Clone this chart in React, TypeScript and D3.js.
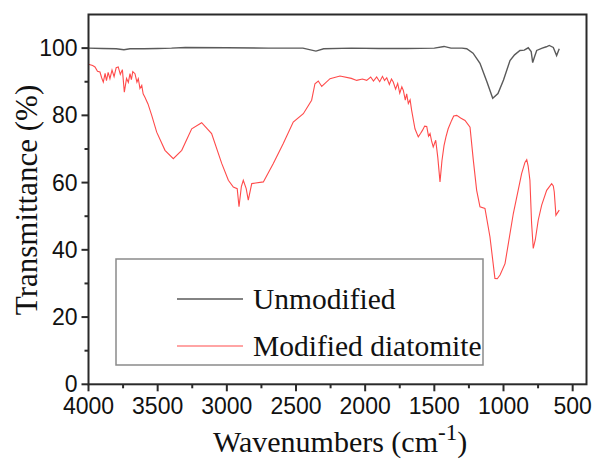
import React from "react";
import * as d3 from "d3";

const unmodWn = [4000, 3900, 3800, 3744, 3700, 3600, 3500, 3400, 3300, 3000, 2700, 2450, 2356, 2300, 2100, 1900, 1700, 1500, 1430, 1380, 1300, 1266, 1220, 1170, 1120, 1078, 1040, 1000, 953, 920, 881, 850, 821, 800, 789, 775, 760, 720, 690, 669, 640, 616, 597];
const unmodT = [100, 99.9, 99.8, 99.5, 99.8, 99.8, 99.9, 100, 100.2, 100.1, 100, 100, 99.1, 99.8, 100, 99.9, 99.9, 100, 100.5, 100, 100, 99.8, 98.5, 95.5, 90, 85.1, 86.5, 90.5, 96.3, 98, 99.3, 99.4, 100.1, 99, 95.7, 97.5, 99.3, 100, 100.4, 100.8, 100.2, 97.8, 99.8];

const modWn = [4000, 3970, 3953, 3935, 3917, 3905, 3893, 3880, 3870, 3858, 3845, 3830, 3815, 3800, 3785, 3770, 3755, 3741, 3725, 3712, 3700, 3690, 3680, 3664, 3650, 3640, 3628, 3615, 3605, 3592, 3570, 3543, 3507, 3447, 3387, 3326, 3254, 3182, 3110, 3037, 2989, 2953, 2925, 2912, 2895, 2881, 2860, 2845, 2820, 2736, 2664, 2592, 2520, 2447, 2387, 2363, 2339, 2314, 2254, 2182, 2100, 2061, 2020, 1989, 1960, 1940, 1917, 1895, 1875, 1860, 1844, 1825, 1810, 1797, 1780, 1765, 1750, 1735, 1724, 1710, 1700, 1688, 1675, 1664, 1640, 1616, 1600, 1585, 1570, 1555, 1542, 1531, 1520, 1508, 1490, 1475, 1459, 1445, 1430, 1416, 1400, 1375, 1360, 1338, 1310, 1278, 1242, 1218, 1194, 1170, 1134, 1098, 1062, 1045, 1025, 989, 929, 869, 845, 832, 822, 809, 797, 785, 770, 749, 724, 688, 652, 640, 633, 621, 610, 597];
const modT = [95.2, 94.8, 94.4, 93.1, 92.9, 91.2, 89.9, 92.5, 90.3, 92.8, 90.9, 93.5, 91.5, 94.2, 94.4, 92.2, 93.6, 86.9, 91.0, 89.8, 92.4, 90.6, 93.0, 92.4, 89.9, 90.9, 88.0, 88.9, 86.4, 85.4, 83.4, 80.0, 75.0, 69.6, 67.1, 69.6, 76.0, 77.8, 74.6, 65.7, 60.7, 58.7, 58.2, 52.8, 58.8, 60.7, 58.2, 54.8, 59.7, 60.2, 65.7, 71.6, 78.0, 80.5, 84.5, 89.4, 90.2, 88.6, 90.9, 91.7, 91.0, 90.4, 90.8, 90.4, 91.4, 90.2, 91.4, 90.0, 91.6, 90.4, 91.2, 89.2, 90.8, 89.9, 87.8, 89.5, 86.6, 88.5, 87.4, 84.5, 86.4, 83.5, 84.6, 81.5, 76.0, 73.6, 74.6, 75.6, 76.8, 76.7, 73.8, 74.6, 72.4, 70.6, 72.6, 67.5, 60.2, 66.5, 71.0, 73.6, 76.0, 78.5, 79.8, 80.0, 79.2, 78.5, 76.5, 66.6, 57.7, 52.8, 52.3, 43.9, 31.5, 31.4, 32.5, 35.9, 50.8, 62.7, 66.0, 66.8, 65.0, 60.7, 48.0, 40.4, 43.0, 48.8, 53.3, 57.7, 59.7, 59.0, 57.2, 50.3, 51.0, 51.8];

const xMajor = [4000, 3500, 3000, 2500, 2000, 1500, 1000, 500];
const xMinor = [3750, 3250, 2750, 2250, 1750, 1250, 750];
const yMajor = [0, 20, 40, 60, 80, 100];
const yMinor = [10, 30, 50, 70, 90];
const legendLabels = ["Unmodified", "Modified diatomite"];

const W = 594, H = 459;
const L = 88.5, R = 586.5, T = 14.5, B = 384.3;

export default function App() {
  const x = d3.scaleLinear().domain([4000, 400]).range([L, R]);
  const y = d3.scaleLinear().domain([0, 110]).range([B, T]);
  const line = d3.line<[number, number]>().x(d => x(d[0])).y(d => y(d[1]));
  const unmodPath = line(unmodWn.map((w, i) => [w, unmodT[i]]))!;
  const modPath = line(modWn.map((w, i) => [w, modT[i]]))!;
  const serif = "'Liberation Serif', 'Times New Roman', serif";
  const sans = "'Liberation Sans', Arial, sans-serif";
  const axisColor = "#2a2a2a";
  const colors = ["#5a5a5a", "#ff4a4a"];
  return (
    <svg width={W} height={H} style={{ position: "absolute", left: 0, top: 0, background: "#fff" }}>
      <rect x={0} y={0} width={W} height={H} fill="#fff" />
      <path d={unmodPath} fill="none" stroke={colors[0]} strokeWidth={1.4} />
      <path d={modPath} fill="none" stroke={colors[1]} strokeWidth={1.1} />
      {/* frame */}
      <rect x={L} y={T} width={R - L} height={B - T} fill="none" stroke={axisColor} strokeWidth={2} />
      {xMajor.map(v => (
        <g key={"xM" + v}>
          <line x1={x(v)} x2={x(v)} y1={B} y2={B + 7} stroke={axisColor} strokeWidth={2} />
          <text x={x(v)} y={413.5} textAnchor="middle" fontFamily={sans} fontSize={23} fill="#111">{v}</text>
        </g>
      ))}
      {xMinor.map(v => (
        <line key={"xm" + v} x1={x(v)} x2={x(v)} y1={B} y2={B + 4} stroke={axisColor} strokeWidth={2} />
      ))}
      {yMajor.map(v => (
        <g key={"yM" + v}>
          <line x1={L - 7} x2={L} y1={y(v)} y2={y(v)} stroke={axisColor} strokeWidth={2} />
          <text x={L - 11} y={y(v) + 8} textAnchor="end" fontFamily={sans} fontSize={23} fill="#111">{v}</text>
        </g>
      ))}
      {yMinor.map(v => (
        <line key={"ym" + v} x1={L - 4} x2={L} y1={y(v)} y2={y(v)} stroke={axisColor} strokeWidth={2} />
      ))}
      {/* legend */}
      <rect x={116} y={259} width={367} height={106} fill="#fff" stroke="#8a8a8a" strokeWidth={1.5} />
      {legendLabels.map((lab, i) => (
        <g key={lab}>
          <line x1={177} x2={243} y1={299 + i * 47} y2={299 + i * 47} stroke={colors[i]} strokeWidth={i === 0 ? 1.4 : 1.1} />
          <text x={253} y={309 + i * 47} fontFamily={serif} fontSize={29.5} fill="#111">{lab}</text>
        </g>
      ))}
      {/* axis titles */}
      <text transform="translate(37,200) rotate(-90)" textAnchor="middle" fontFamily={serif} fontSize={31} fill="#111">Transmittance (%)</text>
      <text x={213} y={452} fontFamily={serif} fontSize={30} fill="#111">
        Wavenumbers (cm<tspan dy={-12} fontSize={23}>-1</tspan><tspan dy={12}>)</tspan>
      </text>
    </svg>
  );
}
